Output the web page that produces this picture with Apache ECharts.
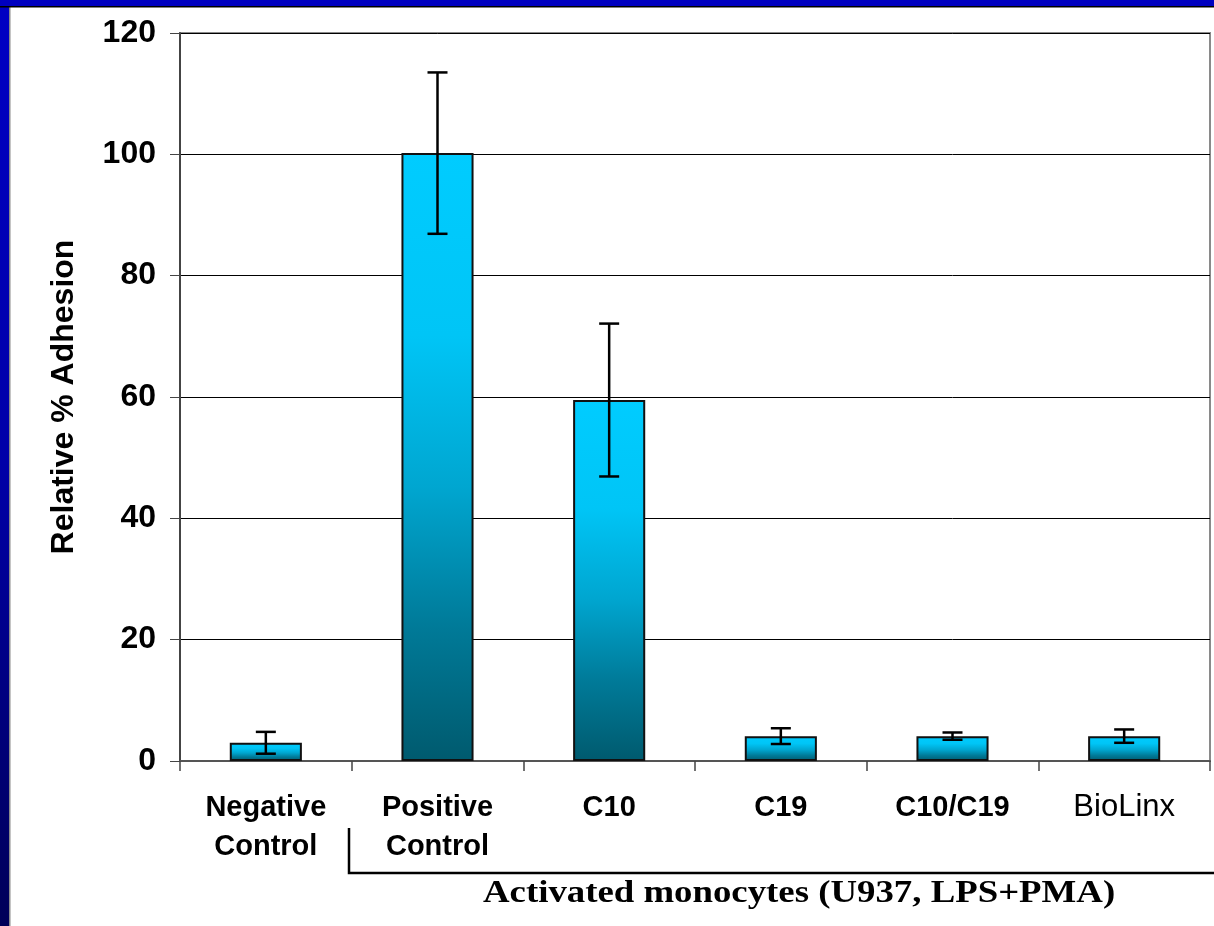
<!DOCTYPE html>
<html>
<head>
<meta charset="utf-8">
<script src="https://cdn.jsdelivr.net/npm/echarts@6/dist/echarts.min.js"></script>
<style>
html,body{margin:0;padding:0;background:#fff;}
#chart{width:1214px;height:926px;}
</style>
</head>
<body>
<div id="chart"></div>
<script>
const categories = ['Negative\nControl', 'Positive\nControl', 'C10', 'C19', 'C10/C19', 'BioLinx'];
const values = [3.0, 100.2, 59.5, 4.1, 4.1, 4.1];
const errors = [1.8, 13.3, 12.6, 1.3, 0.6, 1.1];
const yTicks = [0, 20, 40, 60, 80, 100, 120];
const yAxisTitle = 'Relative % Adhesion';
const groupNote = 'Activated monocytes (U937, LPS+PMA)';

const chart = echarts.init(document.getElementById('chart'), null, {renderer: 'canvas'});

const barGradient = {
  type: 'linear', x: 0, y: 0, x2: 0, y2: 1,
  colorStops: [
    {offset: 0, color: '#00CCFF'},
    {offset: 0.3, color: '#00C5F6'},
    {offset: 0.55, color: '#00A6D0'},
    {offset: 0.78, color: '#007A98'},
    {offset: 1, color: '#005A6E'}
  ]
};

const errData = values.map((v, i) => [i, v - errors[i], v + errors[i]]);

const option = {
  backgroundColor: '#ffffff',
  animation: false,
  grid: {
    left: 180, right: 4, top: 33, bottom: 165,
    show: true, borderColor: '#8a8a8a', borderWidth: 2, backgroundColor: 'transparent'
  },
  xAxis: {
    type: 'category',
    data: categories,
    boundaryGap: true,
    axisLine: {show: true, lineStyle: {color: '#555', width: 2}},
    axisTick: {show: true, interval: 0, length: 10, lineStyle: {color: '#444', width: 1.5}},
    axisLabel: {
      interval: 0,
      margin: 27,
      color: '#000',
      fontFamily: 'Arial, "Liberation Sans", sans-serif',
      fontWeight: 'bold',
      fontSize: 29,
      lineHeight: 39,
      formatter: function (v) {
        if (v === 'BioLinx') return '{n|' + v + '}';
        return v;
      },
      rich: {
        n: {fontWeight: 'normal', fontSize: 31, color: '#000', fontFamily: 'Arial, "Liberation Sans", sans-serif'}
      }
    },
    splitLine: {show: false}
  },
  yAxis: {
    type: 'value',
    min: yTicks[0],
    max: yTicks[yTicks.length - 1],
    interval: 20,
    name: yAxisTitle,
    nameLocation: 'middle',
    nameGap: 100,
    nameRotate: 90,
    nameTextStyle: {
      color: '#000', fontWeight: 'bold', fontSize: 32,
      fontFamily: 'Arial, "Liberation Sans", sans-serif'
    },
    axisLine: {show: true, lineStyle: {color: '#444', width: 2}},
    axisTick: {show: true, length: 10, lineStyle: {color: '#444', width: 1}},
    axisLabel: {
      margin: 24,
      color: '#000',
      fontWeight: 'bold',
      fontSize: 32,
      fontFamily: 'Arial, "Liberation Sans", sans-serif'
    },
    splitLine: {show: true, lineStyle: {color: '#000', width: 1}}
  },
  series: [
    {
      type: 'bar',
      data: values,
      barWidth: '42%',
      itemStyle: {color: barGradient, borderColor: '#111', borderWidth: 2},
      z: 2
    },
    {
      type: 'custom',
      data: errData,
      z: 5,
      renderItem: function (params, api) {
        const x = api.value(0);
        const lo = api.coord([x, api.value(1)]);
        const hi = api.coord([x, api.value(2)]);
        const half = 10;
        const style = {stroke: '#000', lineWidth: 2.5};
        return {
          type: 'group',
          children: [
            {type: 'line', shape: {x1: lo[0], y1: lo[1], x2: hi[0], y2: hi[1]}, style: style},
            {type: 'line', shape: {x1: hi[0] - half, y1: hi[1], x2: hi[0] + half, y2: hi[1]}, style: style},
            {type: 'line', shape: {x1: lo[0] - half, y1: lo[1], x2: lo[0] + half, y2: lo[1]}, style: style}
          ]
        };
      }
    }
  ],
  graphic: [
    {type: 'rect', left: 0, top: 0, z: 100, shape: {width: 1214, height: 6}, style: {fill: '#0000C0'}},
    {type: 'rect', left: 0, top: 6, z: 100, shape: {width: 1214, height: 1.5}, style: {fill: '#000'}},
    {type: 'rect', left: 0, top: 0, z: 99, shape: {width: 9, height: 926},
      style: {fill: {type: 'linear', x: 0, y: 0, x2: 0, y2: 1, colorStops: [
        {offset: 0, color: '#0000C4'}, {offset: 0.5, color: '#0000A8'}, {offset: 1, color: '#000058'}]}}},
    {type: 'rect', left: 9, top: 6, z: 99, shape: {width: 1.5, height: 920}, style: {fill: '#8a8a8a'}},
    {type: 'polyline', z: 50, shape: {points: [[349, 828], [349, 873], [1214, 873]]},
      style: {stroke: '#000', lineWidth: 2.5, fill: null}},
    {type: 'text', z: 50, x: 483, y: 878, scaleX: 1.15, style: {
      text: groupNote, fill: '#000', font: 'bold 32px "Liberation Serif", "Times New Roman", serif'}}
  ]
};

chart.setOption(option);
</script>
</body>
</html>
